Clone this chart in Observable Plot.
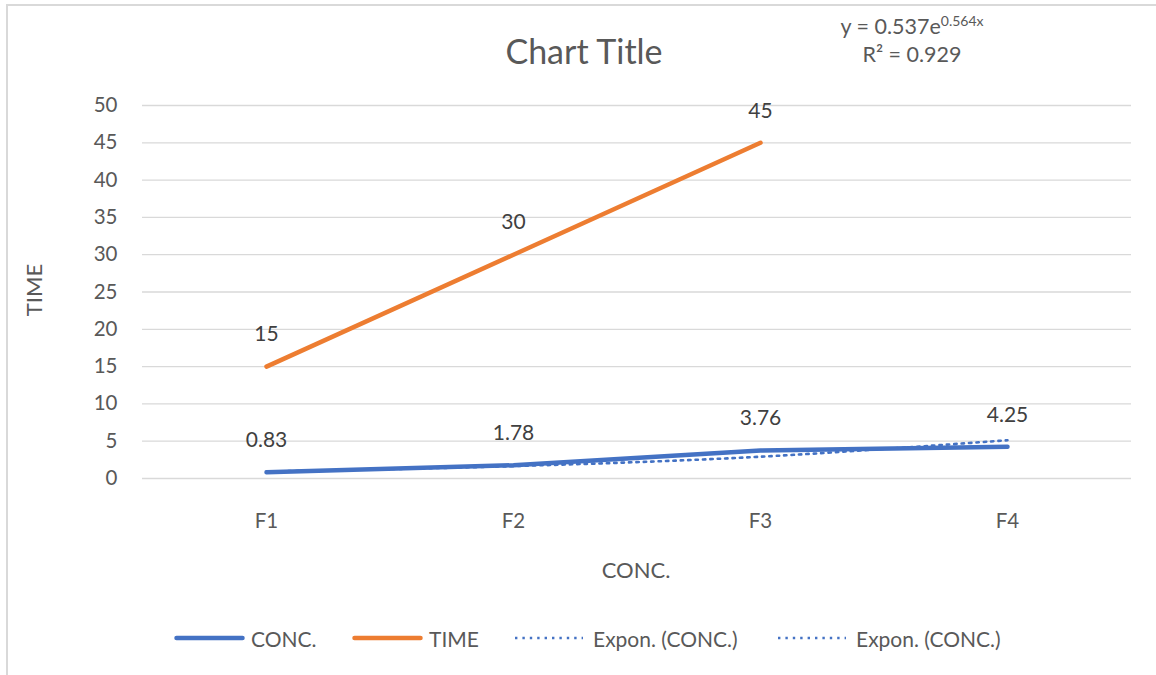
<!DOCTYPE html>
<html>
<head>
<meta charset="utf-8">
<script src="https://cdn.jsdelivr.net/npm/d3@7"></script>
<script src="https://cdn.jsdelivr.net/npm/@observablehq/plot@0.6"></script>
<style>
  html, body { margin: 0; padding: 0; background: #fff; }
  #wrap { position: relative; width: 1156px; height: 675px; overflow: hidden; font-family: Lato, "Open Sans", sans-serif; color: #595959; }
  #frame { position: absolute; left: 6px; top: 4px; width: 1200px; height: 700px; border-top: 2px solid #d9d9d9; border-left: 2px solid #d9d9d9; box-sizing: border-box; }
  #chart { position: absolute; left: 0; top: 0; }
  .abs { position: absolute; white-space: nowrap; }
  #title { left: 584px; top: 50px; transform: translate(-50%, -50%); font-size: 34px; }
  #eq { left: 912px; top: 12px; transform: translateX(-50%); font-size: 21.5px; text-align: center; line-height: 28px; }
  #eq sup { font-size: 14px; vertical-align: 8px; line-height: 0; }
  #ytitle { left: 33px; top: 290px; transform: translate(-50%, -50%) rotate(-90deg); font-size: 22px; }
  #xtitle { left: 636px; top: 569px; transform: translate(-50%, -50%); font-size: 22px; }
  .leg { position: absolute; top: 626px; height: 24px; display: flex; align-items: center; font-size: 21px; }
  .leg svg { margin-right: 6px; }
</style>
</head>
<body>
<div id="wrap">
  <div id="frame"></div>
  <div id="chart"></div>
  <div id="title" class="abs">Chart Title</div>
  <div id="eq" class="abs">y = 0.537e<sup>0.564x</sup><br>R² = 0.929</div>
  <div id="ytitle" class="abs">TIME</div>
  <div id="xtitle" class="abs">CONC.</div>
  <div id="legend"></div>
</div>
<script>
const categories = ["F1", "F2", "F3", "F4"];
const concValues = [0.83, 1.78, 3.76, 4.25];
const timeValues = [15, 30, 45];
const trendValues = [0.94, 1.66, 2.92, 5.13]; // Expon. (CONC.) trendline at each category
const yTicks = [0, 5, 10, 15, 20, 25, 30, 35, 40, 45, 50];
const legendItems = [
  {label: "CONC.", color: "#4472C4", dotted: false, left: 174},
  {label: "TIME", color: "#ED7D31", dotted: false, left: 352},
  {label: "Expon. (CONC.)", color: "#4472C4", dotted: true, left: 515},
  {label: "Expon. (CONC.)", color: "#4472C4", dotted: true, left: 778}
];

const conc = categories.map((c, i) => ({cat: c, v: concValues[i]}));
const time = timeValues.map((v, i) => ({cat: categories[i], v}));
const trend = categories.map((c, i) => ({cat: c, v: trendValues[i]}));

const blue = "#4472C4", orange = "#ED7D31";

const chart = Plot.plot({
  width: 1156,
  height: 675,
  marginLeft: 142,
  marginRight: 25,
  marginTop: 105,
  marginBottom: 197,
  style: {fontFamily: "Lato, 'Open Sans', sans-serif", background: "transparent", overflow: "visible"},
  x: {type: "point", domain: categories, padding: 0.5, label: null},
  y: {domain: [0, 50], label: null},
  marks: [
    Plot.ruleY(yTicks, {stroke: "#d9d9d9", strokeWidth: 1.3}),
    Plot.axisY(yTicks, {tickSize: 0, tickPadding: 25, fontSize: 20.5, fill: "#595959", label: null}),
    Plot.axisX({tickSize: 0, tickPadding: 35, fontSize: 20.5, fill: "#595959", label: null}),
    Plot.line(trend, {x: "cat", y: "v", stroke: blue, strokeWidth: 2.6, strokeDasharray: "2.4 5", curve: "catmull-rom"}),
    Plot.line(conc, {x: "cat", y: "v", stroke: blue, strokeWidth: 4.5, strokeLinecap: "round"}),
    Plot.line(time, {x: "cat", y: "v", stroke: orange, strokeWidth: 4.5, strokeLinecap: "round"}),
    Plot.text(conc, {x: "cat", y: "v", text: d => d.v.toFixed(2), dy: -32, fontSize: 21, fill: "#404040"}),
    Plot.text(time, {x: "cat", y: "v", text: d => String(d.v), dy: -32, fontSize: 21, fill: "#404040"})
  ]
});
document.getElementById("chart").appendChild(chart);

const legend = document.getElementById("legend");
for (const item of legendItems) {
  const div = document.createElement("div");
  div.className = "leg";
  div.style.left = item.left + "px";
  const w = item.dotted ? 68 : 71;
  const dash = item.dotted ? 'stroke-dasharray="2.4 5" stroke-width="2.6"' : 'stroke-width="4.5" stroke-linecap="round"';
  const x1 = item.dotted ? 0 : 2.5, x2 = item.dotted ? w : w - 2.5;
  div.innerHTML = `<svg width="${w}" height="8"><line x1="${x1}" x2="${x2}" y1="4" y2="4" stroke="${item.color}" ${dash}/></svg><span>${item.label}</span>`;
  if (item.dotted) div.querySelector("svg").style.marginRight = "10px";
  legend.appendChild(div);
}
</script>
</body>
</html>
